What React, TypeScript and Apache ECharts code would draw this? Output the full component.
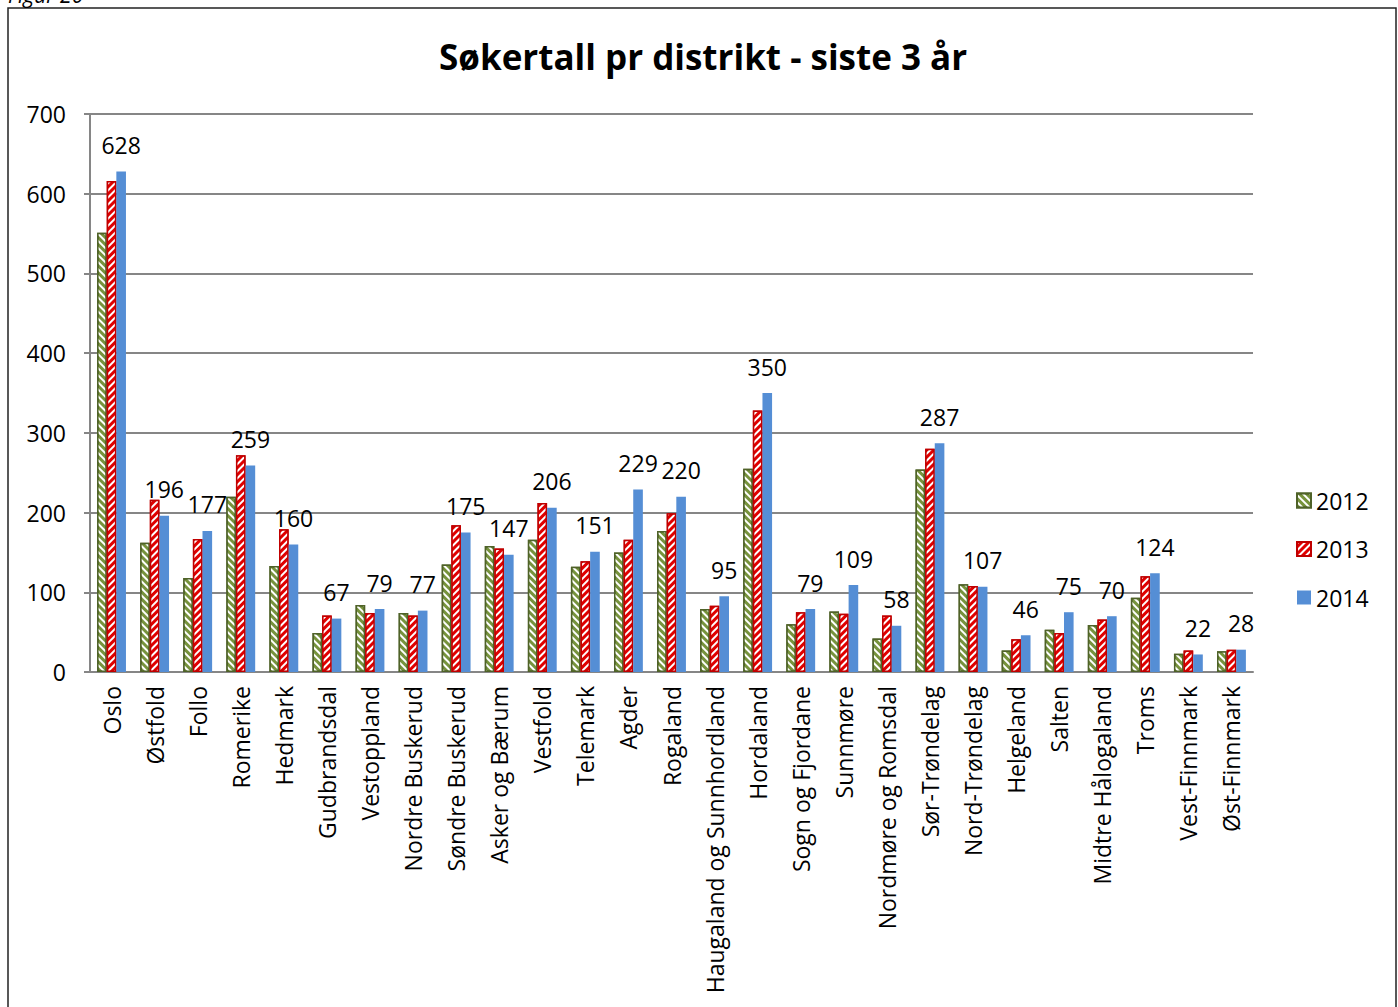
import React, { useEffect, useRef } from "react";
import * as echarts from "echarts";

const categories = [
  "Oslo", "Østfold", "Follo", "Romerike", "Hedmark", "Gudbrandsdal", "Vestoppland",
  "Nordre Buskerud", "Søndre Buskerud", "Asker og Bærum", "Vestfold", "Telemark", "Agder",
  "Rogaland", "Haugaland og Sunnhordland", "Hordaland", "Sogn og Fjordane", "Sunnmøre",
  "Nordmøre og Romsdal", "Sør-Trøndelag", "Nord-Trøndelag", "Helgeland", "Salten",
  "Midtre Hålogaland", "Troms", "Vest-Finnmark", "Øst-Finnmark",
];

const values2012 = [551, 162, 118, 220, 133, 49, 84, 74, 135, 158, 166, 132, 150, 177, 79, 255, 60, 76, 42, 254, 110, 27, 53, 59, 93, 23, 26];
const values2013 = [616, 216, 167, 272, 179, 71, 74, 71, 184, 155, 212, 139, 166, 199, 83, 328, 75, 73, 71, 280, 108, 41, 49, 66, 120, 27, 28];
const values2014 = [628, 196, 177, 259, 160, 67, 79, 77, 175, 147, 206, 151, 229, 220, 95, 350, 79, 109, 58, 287, 107, 46, 75, 70, 124, 22, 28];

const seriesNames = ["2012", "2013", "2014"];
const yTicks = { min: 0, max: 700, interval: 100 };

const FONT = "'Open Sans', 'DejaVu Sans', sans-serif";
const FS = 23;

export default function App() {
  const ref = useRef<HTMLDivElement>(null);

  useEffect(() => {
    if (!ref.current) return;
    const chart = echarts.init(ref.current, null, { renderer: "svg" });
    chart.setOption({
      animation: false,
      backgroundColor: "#ffffff",
      textStyle: { fontFamily: FONT },
      title: {
        text: "Søkertall pr distrikt - siste 3 år",
        left: 434,
        top: 34,
        textStyle: { fontFamily: FONT, fontWeight: "bold", fontSize: 35, color: "#000" },
      },
      legend: {
        orient: "vertical",
        left: 1291,
        top: 484,
        itemWidth: 14,
        itemHeight: 14,
        itemGap: 25.5,
        icon: "rect",
        textStyle: { fontFamily: FONT, fontSize: FS, color: "#000" },
        data: seriesNames,
      },
      graphic: [
        {
          type: "rect",
          shape: { x: 8, y: 8, width: 1388, height: 1020 },
          style: { fill: "none", stroke: "#222", lineWidth: 1.5 },
          silent: true,
        },
        {
          type: "text",
          x: 8,
          y: -16,
          style: { text: "Figur 20", font: "italic 21px " + FONT, fill: "#000" },
          silent: true,
        },
      ],
      grid: { left: 90, right: 145, top: 114, bottom: 335, containLabel: false },
      xAxis: {
        type: "category",
        data: categories,
        axisLine: { lineStyle: { color: "#868686", width: 2 } },
        axisTick: { show: false },
        axisLabel: {
          rotate: 90,
          interval: 0,
          margin: 14,
          fontSize: FS,
          color: "#000",
          fontFamily: FONT,
        },
      },
      yAxis: {
        type: "value",
        min: yTicks.min,
        max: yTicks.max,
        interval: yTicks.interval,
        axisLine: { show: true, lineStyle: { color: "#868686", width: 2 } },
        axisTick: { show: true, length: 6, lineStyle: { color: "#868686", width: 2 } },
        splitLine: { lineStyle: { color: "#868686", width: 2 } },
        axisLabel: { fontSize: FS, color: "#000", margin: 24, fontFamily: FONT },
      },
      series: [
        {
          name: "2012",
          type: "bar",
          data: values2012,
          barGap: "0%",
          barCategoryGap: "33%",
          itemStyle: {
            color: "#77933c",
            borderColor: "#4f6228",
            borderWidth: 1.5,
            decal: {
              symbol: "rect",
              color: "#ffffff",
              dashArrayX: [1, 0],
              dashArrayY: [2, 3],
              rotation: Math.PI / 4,
            },
          },
        },
        {
          name: "2013",
          type: "bar",
          data: values2013,
          barGap: "0%",
          barCategoryGap: "33%",
          itemStyle: {
            color: "#e00000",
            borderColor: "#c00000",
            borderWidth: 1.5,
            decal: {
              symbol: "rect",
              color: "#ffffff",
              dashArrayX: [1, 0],
              dashArrayY: [2, 3],
              rotation: -Math.PI / 4,
            },
          },
        },
        {
          name: "2014",
          type: "bar",
          data: values2014,
          barGap: "0%",
          barCategoryGap: "33%",
          itemStyle: { color: "#558ed5" },
          label: {
            show: true,
            position: "top",
            distance: 15,
            fontSize: FS,
            color: "#000",
            fontFamily: FONT,
          },
        },
      ],
    });
    return () => chart.dispose();
  }, []);

  return (
    <div
      ref={ref}
      style={{ position: "fixed", left: 0, top: 0, width: 1398, height: 1007 }}
    />
  );
}
